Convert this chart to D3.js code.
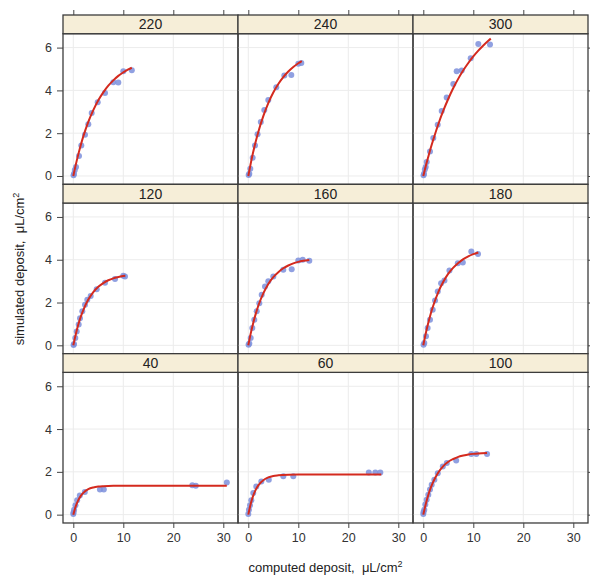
<!DOCTYPE html>
<html>
<head>
<meta charset="utf-8">
<script src="https://cdn.jsdelivr.net/npm/d3@7"></script>
<style>
  body { margin: 0; background: #fff; }
  svg text { font-family: "Liberation Sans", Arial, sans-serif; }
</style>
</head>
<body>
<div id="chart"></div>
<script>
// panels, read row by row from the top of the picture
const panelNames = ["220", "240", "300", "120", "160", "180", "40", "60", "100"];
const xTicks = [0, 10, 20, 30];
const yTicks = [0, 2, 4, 6];

// observed points [computed, simulated]
const pts220 = [[0.05,0.03],[0.14,0.11],[0.3,0.28],[0.54,0.42],[1.14,0.93],[1.6,1.43],[2.34,1.93],[3.0,2.42],[3.68,2.94],[4.88,3.45],[6.34,3.88],[8.0,4.38],[9.0,4.37],[10.0,4.9],[11.7,4.94]];
const pts240 = [[0.07,0.05],[0.2,0.11],[0.4,0.34],[0.88,0.85],[1.34,1.43],[1.85,1.95],[2.5,2.52],[3.2,3.08],[4.0,3.55],[5.6,4.15],[7.2,4.7],[8.6,4.72],[10.0,5.24],[10.6,5.28]];
const pts300 = [[0.05,0.03],[0.14,0.1],[0.3,0.3],[0.48,0.42],[0.68,0.65],[1.34,1.15],[2.0,1.77],[2.88,2.39],[3.68,3.04],[4.68,3.67],[6.0,4.3],[6.68,4.9],[7.68,4.93],[9.48,5.5],[11.0,6.17],[13.34,6.14]];
const pts120 = [[0.05,0.02],[0.14,0.06],[0.4,0.34],[0.68,0.65],[1.08,0.97],[1.34,1.27],[1.8,1.59],[2.34,1.9],[2.8,2.13],[3.48,2.3],[4.68,2.62],[6.34,2.92],[8.34,3.1],[10.0,3.25],[10.34,3.22]];
const pts160 = [[0.05,0.03],[0.2,0.08],[0.48,0.34],[0.8,0.81],[1.2,1.2],[1.68,1.59],[2.2,1.97],[2.68,2.36],[3.34,2.75],[4.0,3.0],[5.0,3.22],[7.0,3.53],[8.68,3.55],[10.0,3.96],[10.88,4.0],[12.2,3.95]];
const pts180 = [[0.05,0.03],[0.2,0.11],[0.54,0.42],[0.87,0.81],[1.34,1.2],[1.88,1.66],[2.35,2.1],[2.89,2.52],[3.56,2.9],[4.23,3.03],[5.23,3.5],[6.9,3.84],[7.9,3.87],[9.6,4.38],[10.94,4.27]];
const pts40  = [[0.0,0.03],[0.05,0.1],[0.16,0.23],[0.43,0.44],[0.77,0.67],[1.3,0.9],[2.3,1.06],[5.33,1.17],[6.1,1.17],[23.8,1.37],[24.5,1.35],[30.7,1.5]];
const pts60  = [[0.0,0.03],[0.13,0.23],[0.34,0.44],[0.6,0.67],[1.0,1.01],[1.6,1.32],[2.6,1.55],[4.1,1.63],[7.0,1.79],[9.0,1.79],[24.1,1.97],[25.4,1.97],[26.4,1.97]];
const pts100 = [[0.0,0.03],[0.05,0.12],[0.2,0.23],[0.4,0.47],[0.67,0.7],[1.0,0.93],[1.34,1.17],[1.68,1.4],[2.21,1.63],[2.89,1.94],[3.9,2.25],[4.7,2.41],[6.58,2.53],[9.6,2.83],[10.6,2.83],[12.75,2.84]];

// red fitted curves
const fit220 = [[0,0],[0.5,0.53],[1,1.01],[1.5,1.45],[2,1.85],[3,2.53],[4,3.08],[5,3.54],[6,3.91],[7,4.22],[8,4.47],[9,4.68],[10,4.84],[11,4.98],[11.7,5.06]];
const fit240 = [[0,0],[0.5,0.6],[1,1.14],[1.5,1.62],[2,2.06],[3,2.8],[4,3.41],[5,3.9],[6,4.3],[7,4.62],[8,4.88],[9,5.09],[10,5.27],[10.7,5.37]];
const fit300 = [[0,0],[0.5,0.47],[1,0.9],[1.5,1.32],[2,1.7],[3,2.42],[4,3.05],[5,3.61],[6,4.11],[7,4.55],[8,4.94],[9,5.28],[10,5.59],[11,5.86],[12,6.1],[13,6.32],[13.5,6.42]];
const fit120 = [[0,0],[0.5,0.52],[1,0.97],[1.5,1.34],[2,1.65],[3,2.14],[4,2.49],[5,2.74],[6,2.91],[7,3.04],[8,3.13],[9,3.19],[10,3.24],[10.4,3.25]];
const fit160 = [[0,0],[0.5,0.57],[1,1.06],[1.5,1.48],[2,1.85],[3,2.43],[4,2.87],[5,3.19],[6,3.42],[7,3.6],[8,3.73],[9,3.83],[10,3.9],[11,3.95],[12.2,3.99]];
const fit180 = [[0,0],[0.5,0.56],[1,1.05],[1.5,1.49],[2,1.86],[3,2.49],[4,2.97],[5,3.35],[6,3.63],[7,3.85],[8,4.03],[9,4.16],[10,4.26],[11,4.34]];
const fit40  = [[0,0],[0.5,0.4],[1,0.68],[1.5,0.88],[2,1.02],[3,1.19],[4,1.27],[5,1.31],[6,1.33],[8,1.35],[30.7,1.35]];
const fit60  = [[0,0],[0.5,0.52],[1,0.9],[1.5,1.17],[2,1.37],[3,1.61],[4,1.74],[5,1.81],[6,1.84],[8,1.87],[10,1.88],[26.6,1.88]];
const fit100 = [[0,0],[0.5,0.5],[1,0.92],[1.5,1.26],[2,1.54],[3,1.97],[4,2.27],[5,2.47],[6,2.6],[7,2.7],[8,2.76],[9,2.81],[10,2.84],[11,2.86],[12.75,2.88]];

const panelPoints = [pts220, pts240, pts300, pts120, pts160, pts180, pts40, pts60, pts100];
const panelFits = [fit220, fit240, fit300, fit120, fit160, fit180, fit40, fit60, fit100];


class FacetPlot {

    constructor(div_id) {
        const W = 590, H = 577;
        const left = 63, top = 15;
        const colW = 175, rowH = 169.33, stripH = 18.7;
        const panelH = rowH - stripH;
        const frame = "#3c3c3c";

        this.svg = d3.select("#" + div_id).append("svg")
            .attr("width", W).attr("height", H);

        // one x and one y scale, every panel is a translated group
        const x = d3.scaleLinear().domain([-2.06, 32.94]).range([0, colW]);
        const y = d3.scaleLinear().domain([-0.39, 6.65]).range([panelH, 0]);

        const line = d3.line()
            .x(d => x(d[0])).y(d => y(d[1]))
            .curve(d3.curveMonotoneX);

        panelNames.forEach((name, i) => {
            const r = Math.floor(i / 3), c = i % 3;
            const g = this.svg.append("g")
                .attr("transform", "translate(" + (left + c * colW) + "," + (top + r * rowH + stripH) + ")");

            // faint grid
            g.selectAll(".gx").data(xTicks).enter().append("line")
                .attr("x1", d => x(d)).attr("x2", d => x(d))
                .attr("y1", 0).attr("y2", panelH)
                .attr("stroke", "#ececec").attr("stroke-width", 1);
            g.selectAll(".gy").data(yTicks).enter().append("line")
                .attr("x1", 0).attr("x2", colW)
                .attr("y1", d => y(d)).attr("y2", d => y(d))
                .attr("stroke", "#ececec").attr("stroke-width", 1);

            // points then fitted curve on top
            g.selectAll("circle").data(panelPoints[i]).enter().append("circle")
                .attr("cx", d => x(d[0])).attr("cy", d => y(d[1]))
                .attr("r", 3)
                .style("fill", "#7d8fdc")
                .style("opacity", 0.85);

            g.append("path").datum(panelFits[i])
                .attr("d", line)
                .attr("fill", "none")
                .attr("stroke", "#d42a1e")
                .attr("stroke-width", 2);

            // panel box
            g.append("rect")
                .attr("x", 0).attr("y", 0).attr("width", colW).attr("height", panelH)
                .attr("fill", "none").attr("stroke", frame).attr("stroke-width", 1.3);

            // strip
            g.append("rect")
                .attr("x", 0).attr("y", -stripH).attr("width", colW).attr("height", stripH)
                .attr("fill", "#f6eed8").attr("stroke", frame).attr("stroke-width", 1.3);
            g.append("text")
                .attr("x", colW / 2).attr("y", -stripH / 2 + 5)
                .attr("text-anchor", "middle")
                .attr("font-size", 14).attr("fill", "#222")
                .text(name);

            // axes: labels on left and bottom, bare ticks top and right
            const fmt = d3.format("d");
            if (c === 0) {
                this.axis(g, d3.axisLeft(y).tickValues(yTicks).tickFormat(fmt).tickSize(6).tickPadding(5), 0, 0, true);
            }
            if (c === 2) {
                this.axis(g, d3.axisRight(y).tickValues(yTicks).tickSize(5).tickFormat(""), colW, 0, false);
            }
            if (r === 2) {
                this.axis(g, d3.axisBottom(x).tickValues(xTicks).tickFormat(fmt).tickSize(5).tickPadding(5), 0, panelH, true);
            }
            if (r === 0) {
                this.axis(g, d3.axisTop(x).tickValues(xTicks).tickSize(5).tickFormat(""), 0, -stripH, false);
            }
        });

        // axis titles
        const xt = this.svg.append("text")
            .attr("x", left + 1.5 * colW).attr("y", 572)
            .attr("text-anchor", "middle")
            .attr("font-size", 13).attr("fill", "#222")
            .style("white-space", "pre");
        xt.append("tspan").text("computed deposit,  \u03BCL/cm");
        xt.append("tspan").attr("dy", -5).attr("font-size", 9).text("2");

        const yt = this.svg.append("text")
            .attr("transform", "translate(24," + (top + 1.5 * rowH) + ") rotate(-90)")
            .attr("text-anchor", "middle")
            .attr("font-size", 13).attr("fill", "#222")
            .style("white-space", "pre");
        yt.append("tspan").text("simulated deposit,  \u03BCL/cm");
        yt.append("tspan").attr("dy", -5).attr("font-size", 9).text("2");
    }

    axis(g, ax, tx, ty, labels) {
        const a = g.append("g")
            .attr("transform", "translate(" + tx + "," + ty + ")")
            .call(ax);
        a.select(".domain").remove();
        a.selectAll(".tick line").attr("stroke", "#444").attr("stroke-width", 1);
        if (labels) {
            a.selectAll(".tick text")
                .attr("font-size", 12.5)
                .attr("fill", "#333")
                .style("font-family", "Liberation Sans, Arial, sans-serif");
        }
    }
}


// wait for the DOM, same as always
function whenDocumentLoaded(action) {
    if (document.readyState === "loading") {
        document.addEventListener("DOMContentLoaded", action);
    } else {
        action();
    }
}

whenDocumentLoaded(() => {
    plot_object = new FacetPlot("chart");
});
</script>
</body>
</html>
